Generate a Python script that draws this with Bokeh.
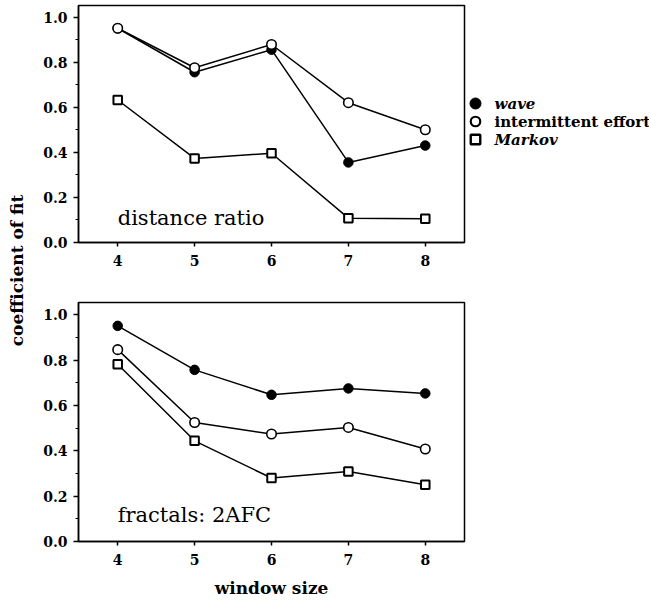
import math
from bokeh.plotting import figure
from bokeh.layouts import row, column
from bokeh.models import Range1d, FixedTicker, NumeralTickFormatter, Label
from bokeh.core.properties import value
from bokeh.embed import file_html
from bokeh.resources import INLINE

# ---------------- data ----------------
window_sizes = [4, 5, 6, 7, 8]

dist_wave = [0.95, 0.755, 0.855, 0.355, 0.43]
dist_intermittent = [0.95, 0.775, 0.878, 0.62, 0.50]
dist_markov = [0.632, 0.373, 0.396, 0.108, 0.105]

frac_wave = [0.951, 0.757, 0.647, 0.675, 0.653]
frac_intermittent = [0.846, 0.525, 0.474, 0.503, 0.408]
frac_markov = [0.782, 0.444, 0.28, 0.309, 0.25]

y_ticks = [0.0, 0.2, 0.4, 0.6, 0.8, 1.0]
y_minor_ticks = [0.1, 0.3, 0.5, 0.7, 0.9]
series_names = ["wave", "intermittent effort", "Markov"]
panel_titles = ["distance ratio", "fractals: 2AFC"]
y_label = "coefficient of fit"
x_label = "window size"

SERIF = "DejaVu Serif"


def style_axes(p):
    p.xgrid.visible = False
    p.ygrid.visible = False
    p.outline_line_color = "black"
    p.outline_line_width = 1.5
    p.background_fill_color = "white"
    p.border_fill_color = "white"

    p.yaxis.ticker = FixedTicker(ticks=y_ticks, minor_ticks=y_minor_ticks)
    p.yaxis.formatter = NumeralTickFormatter(format="0.0")
    p.yaxis.major_tick_out = 5
    p.yaxis.major_tick_in = 0
    p.yaxis.minor_tick_out = 3
    p.yaxis.minor_tick_in = 0
    p.yaxis.major_label_standoff = 6

    p.xaxis.ticker = FixedTicker(ticks=window_sizes)
    p.xaxis.major_tick_out = 4
    p.xaxis.major_tick_in = 0
    p.xaxis.minor_tick_line_color = None
    p.xaxis.major_label_standoff = 8

    for ax in (p.xaxis, p.yaxis):
        ax.axis_line_color = "black"
        ax.axis_line_width = 1.5
        ax.major_tick_line_width = 1.5
        ax.minor_tick_line_width = 1.2
        ax.major_label_text_font = SERIF
        ax.major_label_text_font_style = "bold"
        ax.major_label_text_font_size = "14px"
        ax.major_label_text_color = "black"


def draw_series(p, wave, inter, markov):
    for ys in (wave, inter, markov):
        p.line(window_sizes, ys, line_color="black", line_width=1.5)
    p.scatter(window_sizes, wave, marker="circle", size=9.5,
              fill_color="black", line_color="black", line_width=1)
    p.scatter(window_sizes, inter, marker="circle", size=9.5,
              fill_color="white", line_color="black", line_width=1.6)
    p.scatter(window_sizes, markov, marker="square", size=8.5,
              fill_color="white", line_color="black", line_width=2)


# ---------------- y label strip ----------------
p0 = figure(width=38, height=601, x_range=Range1d(0, 38), y_range=Range1d(601, 0),
            output_backend="svg", toolbar_location=None, min_border=0)
p0.axis.visible = False
p0.grid.visible = False
p0.outline_line_color = None
p0.text(x=[16.5], y=[270], text=[y_label], angle=math.pi / 2,
        text_align="center", text_baseline="middle",
        text_font=value(SERIF), text_font_style="bold", text_font_size="17px",
        text_color="black")

# ---------------- top panel ----------------
p1 = figure(width=428, height=290, x_range=Range1d(3.49, 8.51), y_range=Range1d(0, 1.051),
            output_backend="svg", toolbar_location=None,
            min_border_left=40, min_border_right=2, min_border_top=5, min_border_bottom=48)
style_axes(p1)
draw_series(p1, dist_wave, dist_intermittent, dist_markov)
p1.add_layout(Label(x=4, y=0.11, text=panel_titles[0], text_font=SERIF,
                    text_font_size="21px", text_baseline="alphabetic", text_align="left",
                    text_color="black"))

# ---------------- legend strip (right of top panel) ----------------
# frame of this strip is aligned with the top panel frame (page y 5..242)
pl = figure(width=183, height=290, x_range=Range1d(0, 183), y_range=Range1d(242, 5),
            output_backend="svg", toolbar_location=None,
            min_border_left=0, min_border_right=0, min_border_top=5, min_border_bottom=48)
pl.axis.visible = False
pl.grid.visible = False
pl.outline_line_color = None
leg_y = [103, 121, 139]
pl.scatter([9], [leg_y[0]], marker="circle", size=11,
           fill_color="black", line_color="black", line_width=1)
pl.scatter([9], [leg_y[1]], marker="circle", size=9.5,
           fill_color="white", line_color="black", line_width=2.2)
pl.scatter([9], [leg_y[2]], marker="square", size=9.5,
           fill_color="white", line_color="black", line_width=2.4)
leg_styles = ["bold italic", "bold", "bold italic"]
for name, yy, st in zip(series_names, leg_y, leg_styles):
    pl.text(x=[28], y=[yy], text=[name], text_align="left", text_baseline="middle",
            text_font=value(SERIF), text_font_style=st, text_font_size="15px",
            text_color="black")

# ---------------- bottom panel ----------------
p2 = figure(width=428, height=311, x_range=Range1d(3.49, 8.51), y_range=Range1d(0, 1.054),
            output_backend="svg", toolbar_location=None,
            min_border_left=40, min_border_right=2, min_border_top=12, min_border_bottom=60)
style_axes(p2)
draw_series(p2, frac_wave, frac_intermittent, frac_markov)
p2.add_layout(Label(x=4, y=0.115, text=panel_titles[1], text_font=SERIF,
                    text_font_size="21px", text_baseline="alphabetic", text_align="left",
                    text_color="black"))
p2.xaxis.axis_label = x_label
p2.xaxis.axis_label_text_font = SERIF
p2.xaxis.axis_label_text_font_style = "bold"
p2.xaxis.axis_label_text_font_size = "17px"
p2.xaxis.axis_label_text_color = "black"
p2.xaxis.axis_label_standoff = 10

layout = row(p0, column(row(p1, pl, spacing=0), p2, spacing=0), spacing=0)

open("out.html", "w").write(file_html(layout, INLINE))
